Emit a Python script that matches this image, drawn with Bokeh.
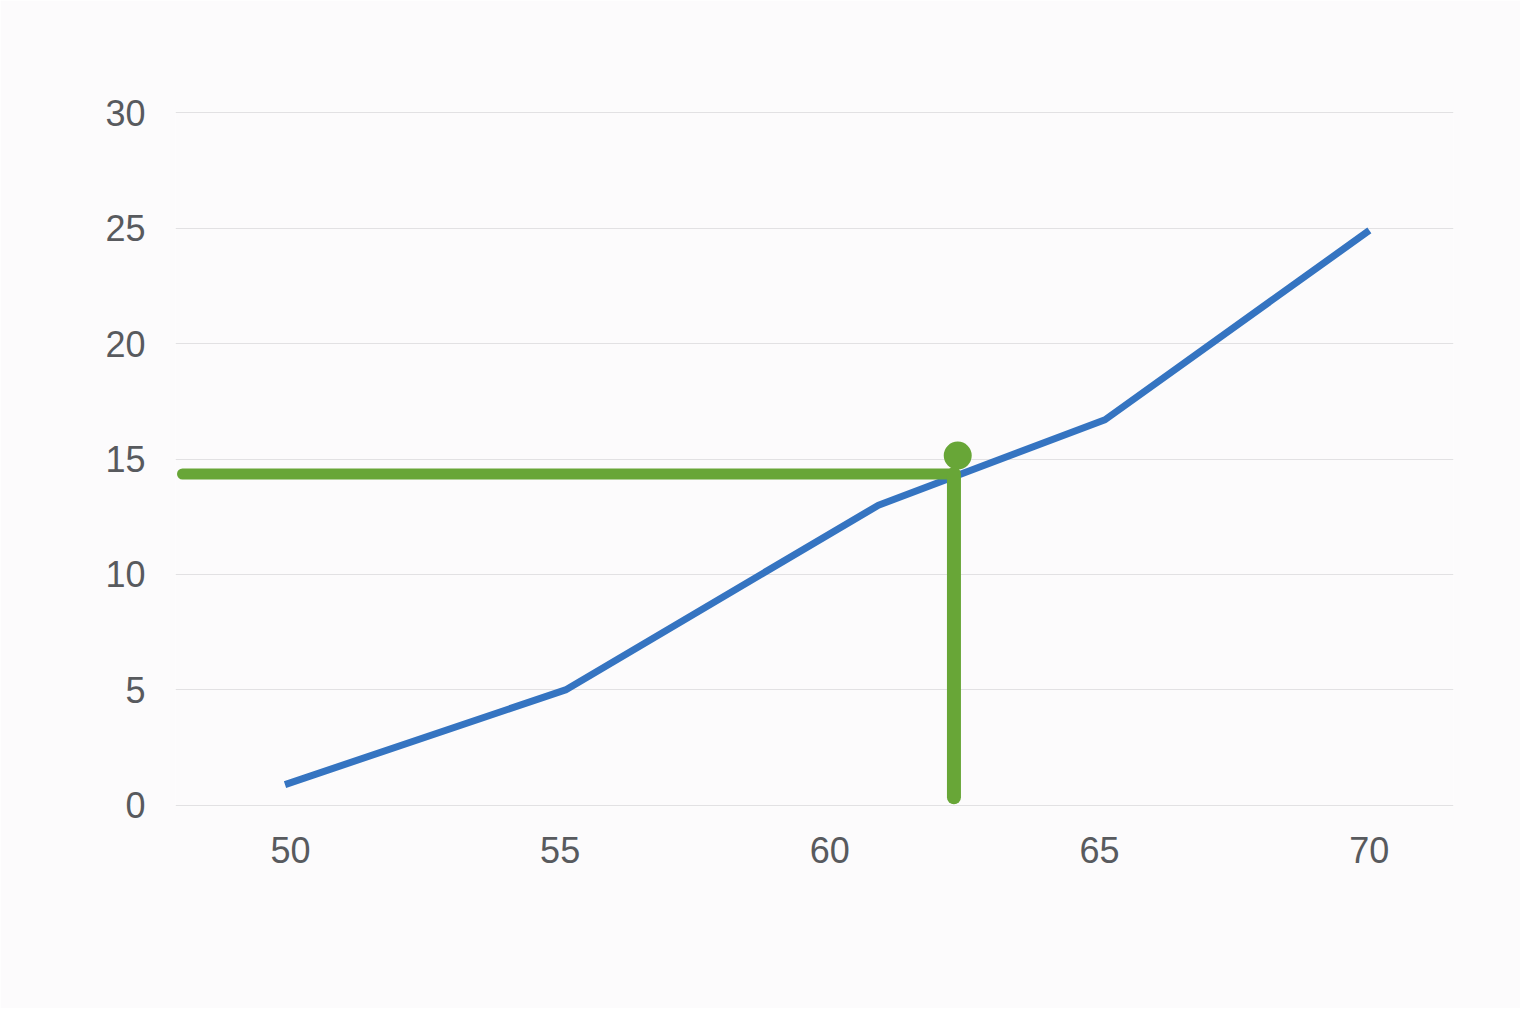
from bokeh.plotting import figure
from bokeh.models import Range1d, FixedTicker
from bokeh.embed import file_html
from bokeh.resources import INLINE

# Data
curve_x = [49.9, 55.1, 60.9, 65.1, 70.0]
curve_y = [0.9, 5.0, 13.0, 16.7, 24.9]

guide_h_x = [48.0, 62.3]
guide_h_y = [14.35, 14.35]
guide_v_x = [62.3, 62.3]
guide_v_y = [0.35, 14.35]
marker_x = [62.37]
marker_y = [15.15]

x_ticks = [50, 55, 60, 65, 70]
y_ticks = [0, 5, 10, 15, 20, 25, 30]

BLUE = "#3574c1"
GREEN = "#68a637"
BG = "#fcfbfc"

p = figure(width=1520, height=1008, output_backend="svg", toolbar_location=None,
           x_range=Range1d(47.87, 71.56), y_range=Range1d(-0.05, 30.05),
           min_border_left=175, min_border_right=67, min_border_top=111,
           min_border_bottom=202)
p.background_fill_color = BG
p.border_fill_color = BG
p.outline_line_color = None

p.xgrid.grid_line_color = None
p.ygrid.grid_line_color = "#e2e1e3"
p.ygrid.grid_line_width = 1.2

for ax in (p.xaxis, p.yaxis):
    ax.axis_line_color = None
    ax.major_tick_line_color = None
    ax.minor_tick_line_color = None
    ax.major_label_text_font = "Liberation Sans"
    ax.major_label_text_font_size = "36px"
    ax.major_label_text_color = "#585a5e"
p.xaxis.ticker = FixedTicker(ticks=x_ticks)
p.yaxis.ticker = FixedTicker(ticks=y_ticks)
p.yaxis.major_label_standoff = 24
p.xaxis.major_label_standoff = 24

p.line(curve_x, curve_y, line_color=BLUE, line_width=7, line_join="round")

p.line(guide_h_x, guide_h_y, line_color=GREEN, line_width=11, line_cap="round")
p.line(guide_v_x, guide_v_y, line_color=GREEN, line_width=14, line_cap="round")
p.scatter(marker_x, marker_y, size=28, fill_color=GREEN, line_color=None)

open("out.html", "w").write(file_html(p, INLINE))
